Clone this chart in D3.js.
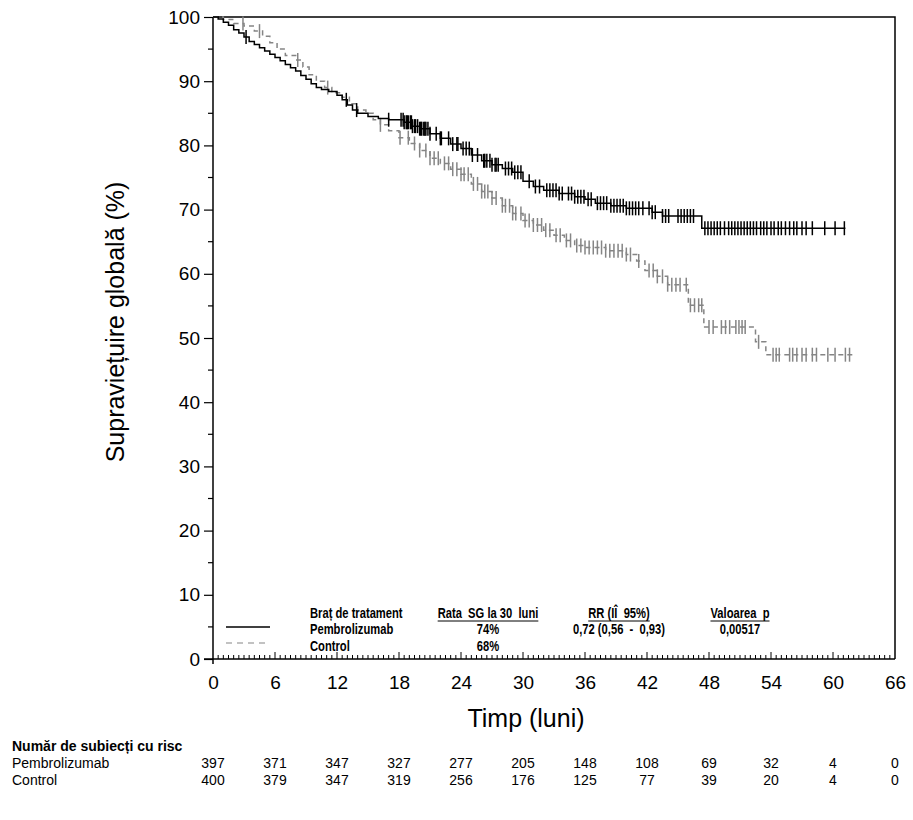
<!DOCTYPE html>
<html>
<head>
<meta charset="utf-8">
<script src="https://cdn.jsdelivr.net/npm/d3@7"></script>
<style>
  body { margin: 0; background: #fff; }
  svg { display: block; font-family: "Liberation Sans", Arial, sans-serif; }
</style>
</head>
<body>
<div id="chart"></div>
<script>
// Kaplan-Meier steps: [month, survival %]
const pembroSteps = [
  [0, 100], [0.5, 99.7], [1, 99.2], [1.5, 98.7], [2, 98.0], [2.5, 97.5], [3, 96.9],
  [3.5, 96.2], [4, 95.7], [4.5, 95.2], [5, 94.7], [5.5, 94.2], [6, 93.7], [6.5, 93.2],
  [7, 92.6], [7.5, 92.1], [8, 91.6], [8.5, 90.9], [9, 90.3], [9.5, 89.6], [10, 89.0],
  [10.5, 88.7], [11.2, 88.4], [12, 87.8], [12.5, 87.1], [13, 86.3], [13.5, 85.5],
  [14, 85.0], [15, 84.5], [16, 84.2], [17, 84.0], [18.5, 83.6], [19.3, 83.0], [20, 82.6],
  [21, 81.8], [22, 81.1], [23, 80.2], [24, 79.5], [25, 78.5], [26, 77.6], [27, 77.0],
  [28, 76.4], [29, 75.8], [30, 74.4], [31, 73.6], [32, 73.0], [33.5, 72.5], [35, 72.0],
  [36, 71.6], [37, 71.0], [38.5, 70.6], [40, 70.2], [42.5, 69.6], [43.5, 69.0],
  [47.3, 67.1], [61.2, 67.1]
];
const controlSteps = [
  [0, 100], [1, 99.6], [2, 99.0], [3, 98.6], [4, 97.8], [4.8, 97.0], [5.5, 96.0],
  [6.2, 95.0], [7, 94.0], [8, 93.3], [8.7, 92.2], [9.3, 91.0], [10, 90.0], [10.8, 89.0],
  [11.5, 88.2], [12.5, 87.5], [13.2, 86.5], [14, 85.5], [14.8, 85.0], [15.5, 84.0],
  [16.2, 83.2], [17, 82.3], [18, 81.2], [19, 80.3], [20, 79.2], [21, 78.0], [22, 77.2],
  [23, 76.3], [24, 75.5], [25, 74.0], [26, 72.8], [27, 71.8], [28, 70.6], [29, 69.4],
  [30, 68.3], [31, 67.6], [32, 66.8], [33, 66.0], [34, 65.2], [35, 64.4], [36, 64.1],
  [38, 63.6], [40, 63.0], [41, 62.0], [41.8, 60.5], [43, 59.6], [44, 58.3], [46, 55.1],
  [47.5, 51.7], [52.5, 49.4], [53.5, 47.4], [61.9, 47.4]
];

// censored subjects (months)
const pembroCensor = [
  3.2, 12.9, 13.9, 17.0, 18.2, 18.4, 18.5, 18.7, 18.8, 18.9, 19.1, 19.2, 19.3, 19.5, 19.6,
  19.8, 20.0, 20.1, 20.2, 20.4, 20.5, 20.6, 20.8, 21.0, 21.6, 22.0, 22.1, 22.8, 23.2, 23.6,
  23.7, 24.2, 24.5, 24.8, 25.1, 25.6, 26.2, 26.3, 26.5, 26.8, 27.0, 27.3, 27.4, 27.6, 28.3,
  28.6, 28.9, 29.2, 29.5, 29.8, 30.6, 31.2, 31.6, 32.3, 32.6, 32.9, 33.2, 33.5, 33.8, 34.4,
  34.7, 35.0, 35.3, 35.6, 35.9, 36.3, 36.6, 37.2, 37.5, 37.8, 38.1, 38.5, 38.8, 39.1, 39.4,
  39.7, 40.0, 40.3, 40.6, 40.9, 41.2, 41.6, 42.2, 42.5, 42.8, 43.5, 43.8, 44.1, 45.0, 45.3,
  45.6, 45.9, 46.2, 46.5, 47.6, 47.9, 48.2, 48.5, 48.8, 49.1, 49.5, 49.9, 50.2, 50.5, 50.8,
  51.1, 51.4, 51.7, 52.0, 52.3, 52.6, 53.0, 53.3, 53.6, 54.0, 54.3, 54.7, 55.0, 55.4, 55.8,
  56.2, 56.5, 57.0, 57.4, 58.0, 59.2, 60.2, 61.1
];
const controlCensor = [
  2.9, 4.5, 8.2, 11.1, 16.2, 18.1, 18.9, 19.5, 20.0, 20.6, 21.0, 21.4, 21.8, 22.4, 22.8,
  23.2, 23.6, 24.0, 24.3, 24.7, 25.2, 25.6, 26.0, 26.3, 26.6, 27.0, 27.4, 28.0, 28.3, 28.7,
  29.0, 29.3, 29.8, 30.2, 30.6, 31.0, 31.4, 31.8, 32.2, 32.6, 33.2, 33.6, 34.2, 34.6, 35.2,
  35.6, 36.0, 36.4, 36.8, 37.2, 37.6, 38.0, 38.4, 38.8, 39.2, 39.6, 40.0, 40.4, 41.2, 42.2,
  42.6, 43.0, 43.5, 44.0, 44.4, 44.8, 45.2, 45.8, 46.2, 46.6, 47.0, 47.3, 48.0, 48.4, 49.2,
  49.6, 50.0, 50.6, 50.9, 51.2, 51.5, 52.8, 54.2, 54.5, 54.8, 55.8, 56.1, 56.5, 57.0, 57.4,
  58.0, 58.4, 59.5, 60.2, 61.2, 61.6
];

// number at risk
const riskTimes = [0, 6, 12, 18, 24, 30, 36, 42, 48, 54, 60, 66];
const pembroRisk = [397, 371, 347, 327, 277, 205, 148, 108, 69, 32, 4, 0];
const controlRisk = [400, 379, 347, 319, 256, 176, 125, 77, 39, 20, 4, 0];

// legend table
const legendHeaders = ["Braț de tratament", "Rata  SG la 30  luni", "RR (IÎ  95%)", "Valoarea  p"];
const legendRows = [
  ["Pembrolizumab", "74%", "0,72 (0,56  -  0,93)", "0,00517"],
  ["Control", "68%", "", ""]
];

const width = 913;
const height = 820;

const svg = d3.select("#chart")
  .append("svg")
  .attr("width", width)
  .attr("height", height);

const x = d3.scaleLinear().domain([0, 66]).range([213, 895]);
const y = d3.scaleLinear().domain([0, 100]).range([659, 17]);

// frame (top + right)
svg.append("path")
  .attr("d", `M${x(0)},${y(100)}H${x(66)}V${y(0)}`)
  .attr("fill", "none")
  .attr("stroke", "#000")
  .attr("stroke-width", 1.5);

// y axis
const yAxis = svg.append("g")
  .attr("transform", `translate(${x(0)},0)`)
  .call(d3.axisLeft(y).tickValues(d3.range(0, 101, 10)).tickSize(9).tickPadding(4));
yAxis.select(".domain").attr("d", `M0,${y(100)}V${y(0) + 5}`).attr("stroke-width", 1.5);
yAxis.selectAll(".tick line").attr("stroke-width", 1.2);
yAxis.selectAll("text").style("font-size", "19px");

svg.append("g")
  .attr("transform", `translate(${x(0)},0)`)
  .selectAll("line")
  .data(d3.range(5, 100, 10))
  .enter()
  .append("line")
  .attr("x1", -5).attr("x2", 0)
  .attr("y1", d => y(d)).attr("y2", d => y(d))
  .attr("stroke", "#000")
  .attr("stroke-width", 1.2);

// x axis, ticks pointing into the plot
const xAxis = svg.append("g")
  .attr("transform", `translate(0,${y(0)})`)
  .call(d3.axisBottom(x).tickValues(d3.range(0, 67, 6)).tickSize(0).tickPadding(17));
xAxis.select(".domain").attr("d", `M${x(0) - 9},0H${x(66)}`).attr("stroke-width", 1.5);
xAxis.selectAll("text").style("font-size", "19px");

svg.append("g")
  .selectAll("line")
  .data(d3.range(0.5, 66, 0.5))
  .enter()
  .append("line")
  .attr("x1", d => x(d)).attr("x2", d => x(d))
  .attr("y1", y(0))
  .attr("y2", d => y(0) - (d % 6 === 0 ? 7 : 4))
  .attr("stroke", "#000")
  .attr("stroke-width", 1);

// axis titles
svg.append("text")
  .attr("transform", `translate(115,322) rotate(-90)`)
  .attr("text-anchor", "middle")
  .attr("dy", "0.35em")
  .style("font-size", "25px")
  .text("Supraviețuire globală (%)");

svg.append("text")
  .attr("x", 526)
  .attr("y", 727)
  .attr("text-anchor", "middle")
  .style("font-size", "25px")
  .text("Timp (luni)");

// survival curves
const line = d3.line()
  .x(d => x(d[0]))
  .y(d => y(d[1]))
  .curve(d3.curveStepAfter);

const stepAt = (steps, t) => {
  const i = d3.bisector(d => d[0]).right(steps, t) - 1;
  return steps[Math.max(0, i)][1];
};

const arms = [
  { steps: controlSteps, censor: controlCensor, color: "#858585", dash: "5,4" },
  { steps: pembroSteps, censor: pembroCensor, color: "#000", dash: null }
];

arms.forEach(arm => {
  svg.append("path")
    .datum(arm.steps)
    .attr("d", line)
    .attr("fill", "none")
    .attr("stroke", arm.color)
    .attr("stroke-width", 1.5)
    .attr("stroke-dasharray", arm.dash);

  // censor marks
  svg.append("g")
    .selectAll("line")
    .data(arm.censor)
    .enter()
    .append("line")
    .attr("x1", d => x(d)).attr("x2", d => x(d))
    .attr("y1", d => y(stepAt(arm.steps, d)) - 7)
    .attr("y2", d => y(stepAt(arm.steps, d)) + 7)
    .attr("stroke", arm.color)
    .attr("stroke-width", 1.5);
});

// legend table inside the plot (narrow bold = Arial squeezed)
const legend = svg.append("g")
  .style("font-weight", "bold")
  .style("font-size", "14px");

const colX = [310, 488, 619, 740];
const rowY = [618, 634, 651];
const squeeze = 0.8;

const addCell = (txt, i, yy) => {
  const t = legend.append("text")
    .attr("transform", `translate(${colX[i]},${yy}) scale(${squeeze},1)`)
    .attr("text-anchor", i === 0 ? "start" : "middle")
    .attr("xml:space", "preserve")
    .text(txt);
  return t.node().getComputedTextLength() * squeeze;
};

legendHeaders.forEach((h, i) => {
  const w = addCell(h, i, rowY[0]);
  if (i > 0) {
    legend.append("line")
      .attr("x1", colX[i] - w / 2).attr("x2", colX[i] + w / 2)
      .attr("y1", rowY[0] + 3).attr("y2", rowY[0] + 3)
      .attr("stroke", "#000")
      .attr("stroke-width", 1);
  }
});

legendRows.forEach((row, r) => {
  row.forEach((v, i) => addCell(v, i, rowY[r + 1]));
});

legend.append("line")
  .attr("x1", 226).attr("x2", 270)
  .attr("y1", 627).attr("y2", 627)
  .attr("stroke", "#000").attr("stroke-width", 1.5);
legend.append("line")
  .attr("x1", 226).attr("x2", 270)
  .attr("y1", 643).attr("y2", 643)
  .attr("stroke", "#858585").attr("stroke-width", 1.2)
  .attr("stroke-dasharray", "6,5");

// number at risk table
svg.append("text")
  .attr("x", 12).attr("y", 751)
  .style("font-size", "14px")
  .style("font-weight", "bold")
  .text("Număr de subiecți cu risc");

[["Pembrolizumab", pembroRisk, 768], ["Control", controlRisk, 785]].forEach(([name, vals, yy]) => {
  svg.append("text")
    .attr("x", 12).attr("y", yy)
    .style("font-size", "14px")
    .text(name);

  svg.append("g")
    .selectAll("text")
    .data(vals)
    .enter()
    .append("text")
    .attr("x", (d, i) => x(riskTimes[i]))
    .attr("y", yy)
    .attr("text-anchor", "middle")
    .style("font-size", "14px")
    .text(d => d);
});
</script>
</body>
</html>
